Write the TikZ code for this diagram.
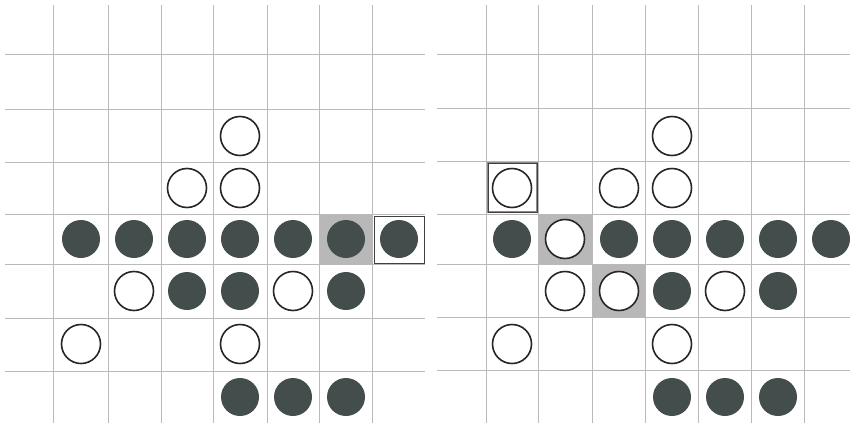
\documentclass[tikz,border=0pt]{standalone}
\begin{document}
\begin{tikzpicture}[x=1pt,y=-1pt,
  gridline/.style={draw=black!27,line width=1pt},
  bstone/.style={circle,fill=stoneblack,inner sep=0pt,minimum size=38pt},
  wstone/.style={circle,draw=black!85,line width=1.6pt,fill=white,inner sep=0pt,minimum size=39pt},
  hicell/.style={fill=black!28},
  boxcell/.style={draw=black!45,line width=2.6pt},
  boxline/.style={draw=black!75,line width=0.9pt}]
\definecolor{stoneblack}{HTML}{434E4C}
\useasboundingbox (0,0) rectangle (850,423);
\fill[white] (0,0) rectangle (850,423);
% highlights
\fill[hicell] (319,214) rectangle (372,264);
\fill[hicell] (538,214) rectangle (592,264);
\fill[hicell] (592,264) rectangle (645,318);
% left grid
\foreach \y in {54,109,162,214,264,318,371} \draw[gridline] (5,\y) -- (425,\y);
\foreach \x in {53,108,161,213,267,319,372} \draw[gridline] (\x,5) -- (\x,423);
% right grid
\foreach \y in {54,108,161,214,264,317,370} \draw[gridline] (437,\y) -- (850,\y);
\foreach \x in {486,538,592,645,698,751,804} \draw[gridline] (\x,5) -- (\x,423);
% boxes
\draw[boxline] (374,216) rectangle (424,263);
\draw[boxcell] (488,163) rectangle (537,212);
\draw[boxline] (488,163) rectangle (537,212);
% left board stones
\node[wstone] (lc5) at (240,136) {};
\node[wstone] (ld4) at (187,188) {};
\node[wstone] (ld5) at (240,188) {};
\node[bstone] (le2) at (81,239) {};
\node[bstone] (le3) at (134,239) {};
\node[bstone] (le4) at (187,239) {};
\node[bstone] (le5) at (240,239) {};
\node[bstone] (le6) at (293,239) {};
\node[bstone] (le7) at (346,239) {};
\node[bstone] (le8) at (399,239) {};
\node[wstone] (lf3) at (134,291) {};
\node[bstone] (lf4) at (187,291) {};
\node[bstone] (lf5) at (240,291) {};
\node[wstone] (lf6) at (293,291) {};
\node[bstone] (lf7) at (346,291) {};
\node[wstone] (lg2) at (81,344) {};
\node[wstone] (lg5) at (240,344) {};
\node[bstone] (lh5) at (240,397) {};
\node[bstone] (lh6) at (293,397) {};
\node[bstone] (lh7) at (346,397) {};
% right board stones
\node[wstone] (rc4) at (672,136) {};
\node[wstone] (rd1) at (512,188) {};
\node[wstone] (rd3) at (619,188) {};
\node[wstone] (rd4) at (672,188) {};
\node[bstone] (re1) at (512,239) {};
\node[wstone] (re2) at (565,239) {};
\node[bstone] (re3) at (619,239) {};
\node[bstone] (re4) at (672,239) {};
\node[bstone] (re5) at (725,239) {};
\node[bstone] (re6) at (778,239) {};
\node[bstone] (re7) at (831,239) {};
\node[wstone] (rf2) at (565,291) {};
\node[wstone] (rf3) at (619,291) {};
\node[bstone] (rf4) at (672,291) {};
\node[wstone] (rf5) at (725,291) {};
\node[bstone] (rf6) at (778,291) {};
\node[wstone] (rg1) at (512,344) {};
\node[wstone] (rg4) at (672,344) {};
\node[bstone] (rh4) at (672,397) {};
\node[bstone] (rh5) at (725,397) {};
\node[bstone] (rh6) at (778,397) {};
\end{tikzpicture}
\end{document}
